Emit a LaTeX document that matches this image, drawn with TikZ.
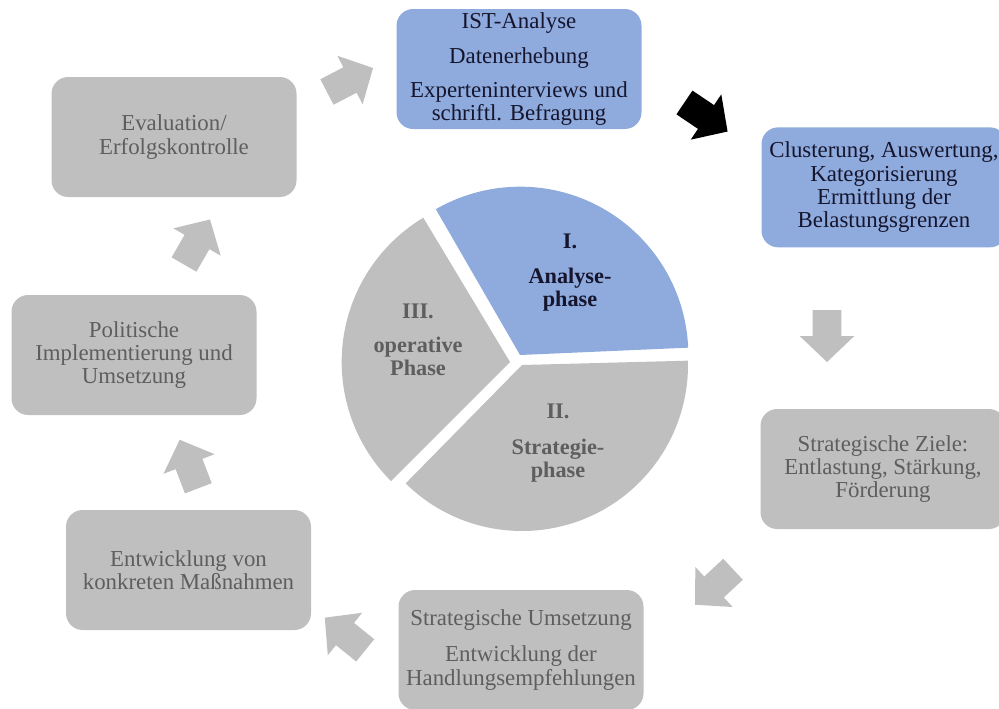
\documentclass[tikz,border=0pt]{standalone}
\usepackage{fontspec}
\setmainfont{Liberation Serif}
\usetikzlibrary{positioning}

\definecolor{phaseblue}{HTML}{8FAADC}
\definecolor{phasegray}{HTML}{BFBFBF}
\definecolor{inkgray}{HTML}{5E5E5E}
\definecolor{inknavy}{HTML}{15152E}

\begin{document}
\begin{tikzpicture}[
    box/.style={minimum width=7.35cm, minimum height=3.6cm, inner sep=0pt,
                rounded corners=0.5cm, align=center,
                font=\fontsize{19.5}{19.9}\selectfont},
    blubox/.style={box, fill=phaseblue, text=inknavy},
    grybox/.style={box, fill=phasegray, text=inkgray},
    phlbl/.style={inner sep=0pt, align=center,
                  font=\fontsize{19}{19.9}\selectfont\bfseries},
    flowarr/.pic={
        \fill (-0.78,-0.43) -- (0,-0.43) -- (0,-0.82) -- (0.78,0)
              -- (0,0.82) -- (0,0.43) -- (-0.78,0.43) -- cycle;
    },
]

\useasboundingbox (0,0) rectangle (29.97,-21.24);

% ===== CENTRE PIE =====
\fill[phaseblue] (15.6,-10.65) -- ++(2.5:5.05)
    arc[start angle=2.5, end angle=120, radius=5.05] -- cycle;
\fill[phasegray] (15.3,-10.86) -- ++(121:5.05)
    arc[start angle=121, end angle=225, radius=5.05] -- cycle;
\fill[phasegray] (15.66,-10.95) -- ++(225.5:4.98)
    arc[start angle=225.5, end angle=361.5, radius=4.98] -- cycle;

\node[phlbl, text=inknavy] (ph1) at (17.1,-8.18) {I.\\[0.35cm]Analyse-\\phase};
\node[phlbl, text=inkgray] (ph2) at (16.74,-13.29) {II.\\[0.38cm]Strategie-\\phase};
\node[phlbl, text=inkgray] (ph3) at (12.54,-10.19) {III.\\[0.33cm]operative\\Phase};

% ===== STEPS =====
\node[blubox] (ist) at (15.57,-2.07)
    {IST-Analyse\\[0.35cm]Datenerhebung\\[0.33cm]Experteninterviews und\\schriftl. Befragung};
\node[blubox] (clu) at (26.52,-5.62)
    {Clusterung, Auswertung,\\Kategorisierung\\Ermittlung der\\Belastungsgrenzen};
\node[grybox] (ziel) at (26.49,-14.07)
    {Strategische Ziele:\\Entlastung, Stärkung,\\Förderung};
\node[grybox] (ums) at (15.63,-19.5)
    {Strategische Umsetzung\\[0.39cm]Entwicklung der\\Handlungsempfehlungen};
\node[grybox] (mass) at (5.655,-17.1) {Entwicklung von\\konkreten Maßnahmen};
\node[grybox] (pol) at (4.02,-10.65) {Politische\\Implementierung und\\Umsetzung};
\node[grybox] (eval) at (5.22,-4.11) {Evaluation/\\Erfolgskontrolle};

% ===== BLOCK ARROWS =====
\pic[color=phasegray, rotate=27.5] at (10.5,-2.4) {flowarr};
\pic[color=black, rotate=-34] at (21.18,-3.51) {flowarr};
\pic[color=phasegray, rotate=-90] at (24.81,-10.08) {flowarr};
\pic[color=phasegray, rotate=223] at (21.42,-17.61) {flowarr};
\pic[color=phasegray, rotate=141] at (10.35,-19.02) {flowarr};
\pic[color=phasegray, rotate=111] at (5.67,-13.92) {flowarr};
\pic[color=phasegray, rotate=60] at (5.91,-7.26) {flowarr};

\end{tikzpicture}
\end{document}
